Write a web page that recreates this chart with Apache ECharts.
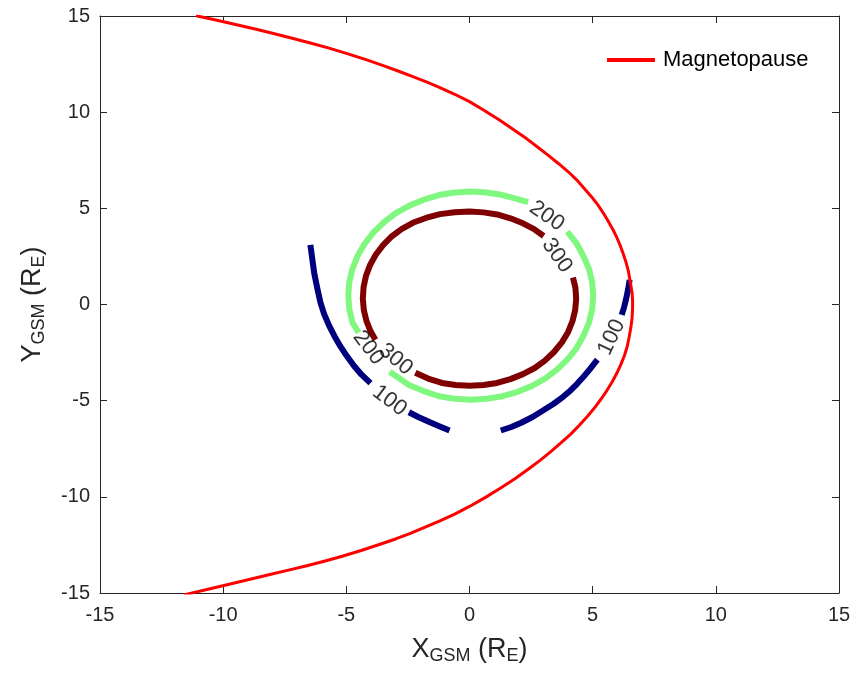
<!DOCTYPE html>
<html>
<head>
<meta charset="utf-8">
<script src="https://cdn.jsdelivr.net/npm/echarts@6/dist/echarts.min.js"></script>
<style>
html,body{margin:0;padding:0;background:#fff;}
#chart{width:858px;height:673px;}
</style>
</head>
<body>
<div id="chart"></div>
<script>
// ---- data ----
var xTicks = [-15, -10, -5, 0, 5, 10, 15];
var yTicks = [-15, -10, -5, 0, 5, 10, 15];

var magnetopause = [
  [-11.1,15.01],[-10.3,14.79],[-9.5,14.56],[-8.7,14.32],[-8.0,14.1],[-7.2,13.84],[-6.5,13.61],
  [-5.7,13.33],[-5.0,13.06],[-4.2,12.73],[-3.5,12.42],[-2.9,12.14],[-2.3,11.85],[-1.75,11.57],
  [-1.2,11.28],[-0.6,10.93],[0,10.55],[0.6,10.09],[1.2,9.6],[1.78,9.1],[2.34,8.6],[2.8,8.15],
  [3.2,7.75],[3.62,7.32],[4.01,6.9],[4.35,6.48],[4.65,6.05],[4.94,5.62],[5.2,5.2],[5.42,4.78],
  [5.62,4.35],[5.82,3.9],[5.99,3.46],[6.13,3.03],[6.25,2.6],[6.36,2.17],[6.45,1.73],[6.53,1.15],
  [6.6,0.6],[6.62,0.2],[6.62,-0.2],[6.6,-0.7],[6.55,-1.2],[6.48,-1.7],[6.4,-2.2],[6.29,-2.65],
  [6.15,-3.1],[5.99,-3.55],[5.8,-4.0],[5.59,-4.45],[5.35,-4.9],[5.09,-5.35],[4.8,-5.8],
  [4.46,-6.28],[4.1,-6.75],[3.71,-7.2],[3.3,-7.65],[2.89,-8.08],[2.45,-8.5],[1.86,-9.05],
  [1.25,-9.55],[0.63,-10.04],[0,-10.5],[-0.6,-10.9],[-1.2,-11.25],[-1.8,-11.58],[-2.4,-11.9],
  [-3.0,-12.19],[-3.6,-12.45],[-4.4,-12.79],[-5.2,-13.1],[-5.9,-13.35],[-6.6,-13.58],
  [-7.35,-13.81],[-8.1,-14.04],[-8.95,-14.3],[-9.8,-14.56],[-10.7,-14.83],[-11.6,-15.1]
];

// contour level 300 (two pieces)
var c300a = [
  [3.01,3.56],[2.62,3.92],[2.17,4.22],[1.66,4.48],[1.12,4.68],[0.57,4.79],[0,4.83],[-0.6,4.8],
  [-1.2,4.7],[-1.77,4.5],[-2.3,4.25],[-2.76,3.92],[-3.15,3.55],[-3.5,3.1],[-3.8,2.6],[-4.03,2.07],
  [-4.2,1.5],[-4.3,0.9],[-4.33,0.3],[-4.29,-0.29],[-4.18,-0.87],[-4.02,-1.38],[-3.82,-1.83]
];
var c300b = [
  [-2.2,-3.55],[-1.68,-3.85],[-1.12,-4.08],[-0.57,-4.19],[0,-4.23],[0.57,-4.19],[1.12,-4.08],
  [1.66,-3.88],[2.17,-3.62],[2.65,-3.3],[3.06,-2.92],[3.43,-2.47],[3.75,-1.97],[4.0,-1.44],
  [4.18,-0.87],[4.29,-0.29],[4.33,0.3],[4.3,0.87],[4.2,1.4]
];
// contour level 200 (two pieces)
var c200a = [
  [2.38,5.32],[1.88,5.5],[1.34,5.69],[0.7,5.82],[0.05,5.87],[-0.6,5.82],[-1.24,5.69],
  [-1.86,5.45],[-2.44,5.14],[-2.99,4.75],[-3.46,4.29],[-3.9,3.75],[-4.25,3.17],[-4.54,2.53],
  [-4.75,1.86],[-4.88,1.17],[-4.92,0.46],[-4.88,-0.25],[-4.75,-0.94],[-4.5,-1.47]
];
var c200b = [
  [-3.24,-3.5],[-2.44,-4.2],[-1.86,-4.5],[-1.24,-4.77],[-0.6,-4.9],[0.05,-4.95],[0.7,-4.9],
  [1.34,-4.77],[1.96,-4.54],[2.54,-4.23],[3.08,-3.84],[3.56,-3.37],[3.99,-2.84],[4.33,-2.3],
  [4.62,-1.64],[4.85,-0.94],[4.98,-0.24],[5.02,0.46],[4.98,1.16],[4.85,1.86],[4.62,2.53],
  [4.35,3.17],[3.97,3.79]
];
// contour level 100 (four pieces)
var c100a = [[-6.46,3.1],[-6.38,2.35],[-6.3,1.6],[-6.18,0.85],[-6.05,0.1],[-5.9,-0.5],[-5.7,-1.1],
  [-5.48,-1.65],[-5.24,-2.18],[-4.98,-2.68],[-4.7,-3.17],[-4.38,-3.65],[-4.02,-4.09]];
var c100b = [[-2.46,-5.6],[-2.06,-5.86],[-1.65,-6.1],[-1.23,-6.33],[-0.81,-6.55]];
var c100c = [[1.27,-6.55],[1.7,-6.37],[2.1,-6.15],[2.56,-5.85],[3.0,-5.5],[3.42,-5.16],[3.8,-4.8],
  [4.1,-4.47],[4.35,-4.15],[4.6,-3.8],[4.8,-3.5],[5.0,-3.18],[5.19,-2.87]];
var c100d = [[6.18,-0.54],[6.28,-0.12],[6.36,0.3],[6.44,0.8],[6.5,1.28]];

// contour labels
var labelX = [3.14, -4.1, 3.55, -3.0, 5.77, -3.25];
var labelY = [4.6, -2.25, 2.55, -2.85, -1.7, -5.0];
var labelText = ['200', '200', '300', '300', '100', '100'];
var labelAngle = [-35, -53, -55, -40, 65, -37];

// ---- chart ----
var FONT = '"Liberation Sans", Arial, Helvetica, sans-serif';
var AXC = '#262626';
var chart = echarts.init(document.getElementById('chart'), null, {renderer: 'canvas'});

function contour(data, color) {
  return {
    type: 'line', data: data, showSymbol: false, symbol: 'none', silent: true,
    lineStyle: {color: color, width: 6, cap: 'butt', join: 'round'}, z: 3, animation: false
  };
}

var labelData = labelX.map(function (x, i) {
  return {
    value: [x, labelY[i]],
    label: {show: true, formatter: labelText[i], rotate: labelAngle[i], position: 'inside',
            fontSize: 22, color: '#000', fontFamily: FONT}
  };
});

var titleRich = {
  m: {fontSize: 27, fontFamily: FONT, color: '#262626'},
  s: {fontSize: 18, fontFamily: FONT, color: '#262626', padding: [12, 0, 0, 0]}
};

function baseAxis(extra) {
  var a = {
    type: 'value', min: -15, max: 15, interval: 5,
    axisLine: {show: true, onZero: false, lineStyle: {color: AXC, width: 1}},
    axisTick: {show: true, inside: true, length: 7, lineStyle: {color: AXC, width: 1}},
    splitLine: {show: false},
    axisLabel: {show: true, fontSize: 20, fontFamily: FONT, color: '#262626', margin: 12}
  };
  for (var k in extra) a[k] = extra[k];
  return a;
}

var option = {
  animation: false,
  backgroundColor: '#ffffff',
  grid: {left: 100, right: 19, top: 16, bottom: 80, containLabel: false},
  xAxis: [
    baseAxis({position: 'bottom', name: '{m|X}{s|GSM}{m| (R}{s|E}{m|)}', nameLocation: 'middle', nameGap: 42,
      nameTextStyle: {rich: titleRich}}),
    baseAxis({position: 'top', axisLabel: {show: false}})
  ],
  yAxis: [
    baseAxis({position: 'left', name: '{m|Y}{s|GSM}{m| (R}{s|E}{m|)}', nameLocation: 'middle', nameGap: 52,
      nameRotate: 90, nameTextStyle: {rich: titleRich}, axisLabel: {show: true, fontSize: 20, fontFamily: FONT, color: '#262626', margin: 10}}),
    baseAxis({position: 'right', axisLabel: {show: false}})
  ],
  legend: {
    data: [{name: 'Magnetopause', icon: 'rect'}],
    left: 607, top: 49, padding: 0,
    itemWidth: 48, itemHeight: 4,
    textStyle: {fontSize: 22, fontFamily: FONT, color: '#000', padding: [0, 0, 0, 3]}
  },
  series: [
    contour(c300a, '#7f0000'), contour(c300b, '#7f0000'),
    contour(c200a, '#80f880'), contour(c200b, '#80f880'),
    contour(c100a, '#00007f'), contour(c100b, '#00007f'), contour(c100c, '#00007f'), contour(c100d, '#00007f'),
    {
      name: 'Magnetopause', type: 'line', data: magnetopause, showSymbol: false, symbol: 'none', clip: true,
      lineStyle: {color: '#ff0000', width: 3, join: 'round'}, itemStyle: {color: '#ff0000'}, z: 4
    },
    {
      type: 'scatter', data: labelData, symbolSize: 1, itemStyle: {color: 'rgba(0,0,0,0)'}, z: 5, silent: true
    }
  ]
};
chart.setOption(option);
</script>
</body>
</html>
